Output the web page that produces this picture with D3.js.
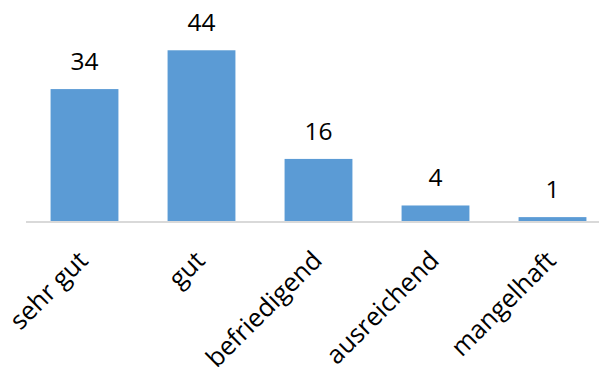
<!DOCTYPE html>
<html>
<head>
<meta charset="utf-8">
<script src="https://cdn.jsdelivr.net/npm/d3@7"></script>
<style>
  html, body { margin: 0; padding: 0; background: #fff; overflow: hidden; }
  svg { display: block; font-family: "Open Sans", sans-serif; }
</style>
</head>
<body>
<svg id="chart" width="599" height="367"></svg>
<script>
const categories = ["sehr gut", "gut", "befriedigend", "ausreichend", "mangelhaft"];
const values = [34, 44, 16, 4, 1];
const yDomain = [0, 50];

const svg = d3.select("#chart");
const baseY = 221;

const x = d3.scaleBand()
  .domain(categories)
  .range([26, 611])
  .paddingInner(0.42)
  .paddingOuter(0.21);

const y = d3.scaleLinear()
  .domain(yDomain)
  .range([baseY, 27]);

// bars
svg.append("g").selectAll("rect")
  .data(categories)
  .join("rect")
  .attr("x", d => x(d))
  .attr("y", (d, i) => y(values[i]))
  .attr("width", x.bandwidth())
  .attr("height", (d, i) => y(0) - y(values[i]))
  .attr("fill", "#5b9bd5");

// axis line
const xAxis = d3.axisBottom(x).tickSize(0).tickFormat("");
const axisG = svg.append("g")
  .attr("transform", `translate(0,${baseY + 1})`)
  .call(xAxis);
axisG.select(".domain")
  .attr("d", `M26,0H599`)
  .attr("stroke", "#d9d9d9")
  .attr("stroke-width", 2);

// category labels
svg.append("g").selectAll("text")
  .data(categories)
  .join("text")
  .attr("transform", d => `translate(${x(d) + x.bandwidth() / 2 + 5},${baseY + 41}) rotate(-45)`)
  .attr("text-anchor", "end")
  .attr("font-size", 25.5)
  .attr("fill", "#000")
  .text(d => d);

// value labels
svg.append("g").selectAll("text")
  .data(categories)
  .join("text")
  .attr("x", d => x(d) + x.bandwidth() / 2)
  .attr("y", (d, i) => y(values[i]) - 19)
  .attr("text-anchor", "middle")
  .attr("font-size", 24.5)
  .attr("fill", "#000")
  .text((d, i) => values[i]);
</script>
</body>
</html>
